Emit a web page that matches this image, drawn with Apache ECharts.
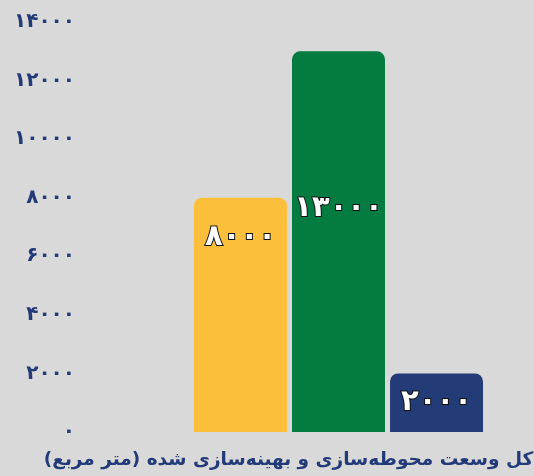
<!DOCTYPE html>
<html><head><meta charset="utf-8">
<script src="https://cdn.jsdelivr.net/npm/echarts@6/dist/echarts.min.js"></script>
<style>html,body{margin:0;padding:0;background:#d9d9d9}#c{width:534px;height:476px}</style>
</head><body><div id="c"></div>
<script>
const categories = ['کل وسعت محوطه‌سازی و بهینه‌سازی شده (متر مربع)'];
const seriesA = [8000];
const seriesB = [13000];
const seriesC = [2000];
const colors = ['#FBBF3C', '#037B41', '#233B77'];
const yMax = 14000, yStep = 2000;

function fa(n){ return String(n).replace(/\d/g, d => '۰۱۲۳۴۵۶۷۸۹'[d]); }

const chart = echarts.init(document.getElementById('c'), null, {renderer:'canvas'});
const font = 'DejaVu Sans';
function lbl(off){
  return {show:true, position:'inside', offset:off, formatter:p=>fa(p.value),
    color:'#fff', fontFamily:font, fontWeight:'bold', fontSize:29,
    textBorderColor:'#111', textBorderWidth:2};
}
const datas = [seriesA, seriesB, seriesC];
const offs = [[0,-77],[0,-33],[0,0]];
chart.setOption({
  backgroundColor:'#d9d9d9',
  animation:false,
  grid:{left:143, right:0, top:22, bottom:44, containLabel:false, outerBoundsMode:'none'},
  xAxis:{type:'category', data:categories,
    axisLine:{show:false}, axisTick:{show:false},
    axisLabel:{margin:19, color:'#233A78', fontFamily:font, fontWeight:'bold', fontSize:18.5, interval:0,
      align:'center', padding:[0,100,0,0]}},
  yAxis:{type:'value', min:0, max:yMax, interval:yStep,
    splitLine:{show:false}, axisLine:{show:false}, axisTick:{show:false},
    axisLabel:{margin:68, color:'#233A78', fontFamily:font, fontWeight:'bold', fontSize:20, formatter:v=>fa(v)}},
  series: datas.map((d,i)=>({type:'bar', data:d, barWidth:93, barGap:'5.4%',
    itemStyle:{color:colors[i], borderRadius:[8,8,0,0]}, label:lbl(offs[i])}))
});
</script></body></html>
